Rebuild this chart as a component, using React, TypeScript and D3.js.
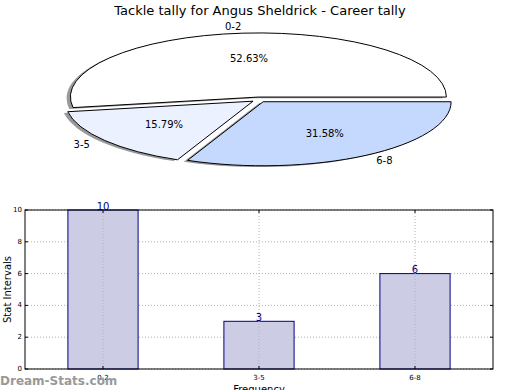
import { useMemo } from "react";
import * as d3 from "d3";

const W = 520;
const H = 390;

const categories = ["0-2", "3-5", "6-8"];
const counts = [10, 3, 6];
const sliceColors = ["#ffffff", "#ebf1ff", "#c5d9ff"];
const yTicks = [0, 2, 4, 6, 8, 10];

const PIE = { cx: 259, cy: 99.6, rx: 188, ry: 64, explode: 0.04 };
const BAR = { left: 25, right: 493, top: 210, bottom: 369 };
const FONT = "DejaVu Sans, sans-serif";

const PieChart = () => {
  const slices = useMemo(() => {
    const arcs = d3.pie<number>().sort(null)(counts);
    const total = d3.sum(counts);
    return arcs.map((a, i) => {
      const t0 = a.startAngle;
      const t1 = a.endAngle;
      const mid = (t0 + t1) / 2;
      const ux = Math.cos(mid);
      const uy = -Math.sin(mid);
      const ox = PIE.cx + PIE.explode * PIE.rx * ux;
      const oy = PIE.cy + PIE.explode * PIE.ry * uy;
      const path = d3.arc()({
        innerRadius: 0,
        outerRadius: 1,
        startAngle: Math.PI / 2 - t1,
        endAngle: Math.PI / 2 - t0,
      } as any) as string;
      return {
        i,
        path,
        ox,
        oy,
        label: categories[i],
        lx: ox + 1.1 * PIE.rx * ux,
        ly: oy + 1.1 * PIE.ry * uy,
        anchor: ux < 0 ? "end" : "start",
        px: ox + 0.6 * PIE.rx * ux,
        py: oy + 0.6 * PIE.ry * uy,
        pct: ((counts[i] / total) * 100).toFixed(2) + "%",
      };
    });
  }, []);

  return (
    <g>
      {slices.map((s) => (
        <path
          key={"sh" + s.i}
          d={s.path}
          transform={`translate(${s.ox - 0.02 * PIE.rx},${s.oy + 0.02 * PIE.ry}) scale(${PIE.rx},${PIE.ry})`}
          fill="#333"
          fillOpacity={0.5}
          stroke="none"
        />
      ))}
      {slices.map((s) => (
        <path
          key={"sl" + s.i}
          d={s.path}
          transform={`translate(${s.ox},${s.oy}) scale(${PIE.rx},${PIE.ry})`}
          fill={sliceColors[s.i]}
          stroke="#000"
          strokeWidth={1}
          vectorEffect="non-scaling-stroke"
        />
      ))}
      {slices.map((s) => (
        <g key={"t" + s.i} fontFamily={FONT} fontSize={10} fill="#000">
          <text x={s.lx} y={s.ly} textAnchor={s.anchor} dominantBaseline="central">
            {s.label}
          </text>
          <text x={s.px} y={s.py} textAnchor="middle" dominantBaseline="central">
            {s.pct}
          </text>
        </g>
      ))}
    </g>
  );
};

const BarChart = () => {
  const x = d3.scaleLinear().domain([-0.5, 2.5]).range([BAR.left, BAR.right]);
  const y = d3.scaleLinear().domain([0, 10]).range([BAR.bottom, BAR.top]);
  const bw = 0.45;

  return (
    <g fontFamily={FONT}>
      {yTicks.map((t) => (
        <g key={"y" + t}>
          <line x1={BAR.left} x2={BAR.right} y1={y(t)} y2={y(t)} stroke="#b0b0b0" strokeDasharray="1,2" />
          <line x1={BAR.left} x2={BAR.left + 3} y1={y(t)} y2={y(t)} stroke="#000" />
          <line x1={BAR.right - 3} x2={BAR.right} y1={y(t)} y2={y(t)} stroke="#000" />
          <text x={BAR.left - 3} y={y(t)} textAnchor="end" dominantBaseline="central" fontSize={7}>
            {t}
          </text>
        </g>
      ))}
      {categories.map((c, i) => (
        <g key={"b" + c}>
          <rect
            x={x(i - bw / 2)}
            width={x(bw) - x(0)}
            y={y(counts[i])}
            height={BAR.bottom - y(counts[i])}
            fill="#ccccE5"
            stroke="#000080"
            strokeWidth={1}
          />
          <line x1={x(i)} x2={x(i)} y1={BAR.top} y2={BAR.bottom} stroke="#b0b0b0" strokeDasharray="1,2" />
          <line x1={x(i)} x2={x(i)} y1={BAR.bottom - 3} y2={BAR.bottom} stroke="#000" />
          <line x1={x(i)} x2={x(i)} y1={BAR.top} y2={BAR.top + 3} stroke="#000" />
          <text x={x(i)} y={BAR.bottom + 11} textAnchor="middle" fontSize={7}>
            {c}
          </text>
          <text x={x(i)} y={y(counts[i]) - 0.5} textAnchor="middle" fontSize={10} fill="#000080">
            {counts[i]}
          </text>
        </g>
      ))}
      <rect
        x={BAR.left}
        y={BAR.top}
        width={BAR.right - BAR.left}
        height={BAR.bottom - BAR.top}
        fill="none"
        stroke="#000"
      />
      <text
        transform={`translate(7,${(BAR.top + BAR.bottom) / 2}) rotate(-90)`}
        textAnchor="middle"
        dominantBaseline="central"
        fontSize={10}
      >
        Stat Intervals
      </text>
      <text x={(BAR.left + BAR.right) / 2} y={393} textAnchor="middle" fontSize={10}>
        Frequency
      </text>
    </g>
  );
};

export default function App() {
  return (
    <svg
      width={W}
      height={H}
      style={{ position: "absolute", left: 0, top: 0, background: "#fff" }}
    >
      <text x={260} y={15} textAnchor="middle" fontFamily={FONT} fontSize={13}>
        Tackle tally for Angus Sheldrick - Career tally
      </text>
      <PieChart />
      <BarChart />
      <text x={0} y={385} fontFamily={FONT} fontSize={12} fontWeight="bold" fill="#999">
        Dream-Stats.com
      </text>
    </svg>
  );
}
